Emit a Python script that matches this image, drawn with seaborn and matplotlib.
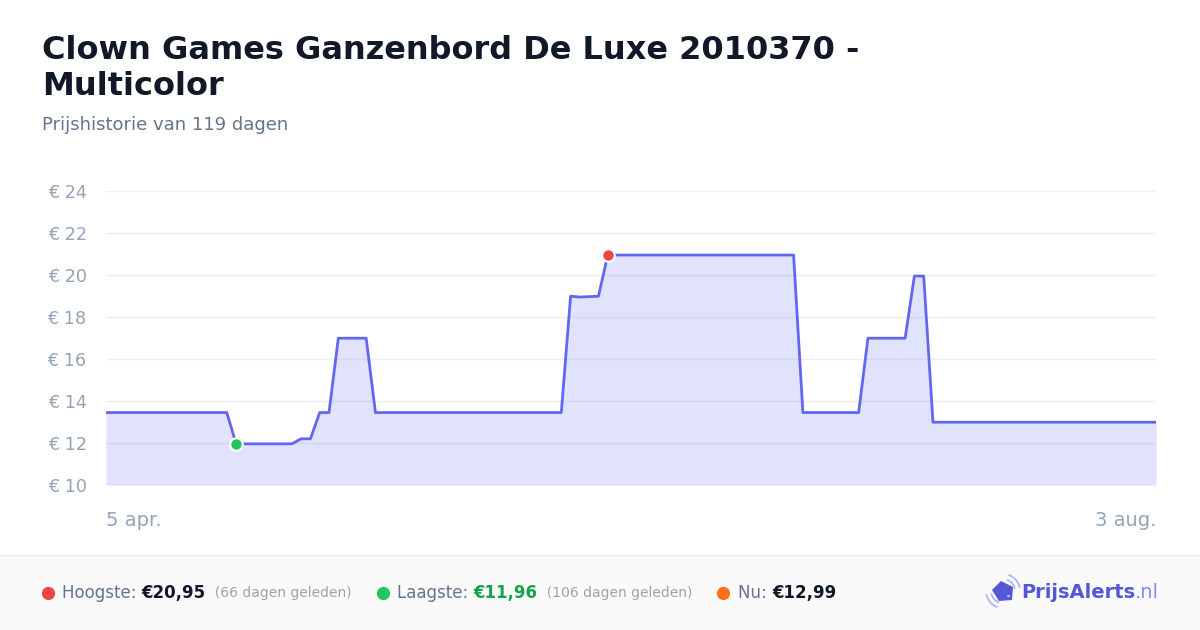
import matplotlib
matplotlib.use("Agg")
import matplotlib.pyplot as plt
import seaborn as sns
import pandas as pd
from matplotlib.patches import Rectangle, Arc, Polygon, Circle

# price change points (day index, price in euro)
days = [0, 13, 14, 20, 21, 22, 23, 24, 25, 28, 29, 49, 50, 51, 53, 54,
        74, 75, 81, 82, 86, 87, 88, 89, 113]
prices = [13.45, 13.45, 11.96, 11.96, 12.2, 12.2, 13.45, 13.45, 16.99, 16.99,
          13.45, 13.45, 18.99, 18.95, 18.99, 20.95, 20.95, 13.45, 13.45, 16.99,
          16.99, 19.95, 19.95, 12.99, 12.99]

y_ticks = [10, 12, 14, 16, 18, 20, 22, 24]
x_labels = ["5 apr.", "3 aug."]

title_lines = ["Clown Games Ganzenbord De Luxe 2010370 -", "Multicolor"]
subtitle = "Prijshistorie van 119 dagen"

high_day, high_price = 54, 20.95
low_day, low_price = 14, 11.96
now_price = 12.99

df = pd.DataFrame({"day": days, "price": prices})

sns.set_style("white")
plt.rcParams["font.family"] = ["DejaVu Sans"]

W, H = 1200, 630
fig = plt.figure(figsize=(12, 6.3), dpi=100)


def fx(x):
    return x / W


def fy(y):
    return 1 - y / H


line_color = "#6366f1"
ax = fig.add_axes([fx(106), fy(485), fx(1156) - fx(106), fy(191) - fy(485)])
ax.fill_between(df["day"], df["price"], 10, color=line_color, alpha=0.19, linewidth=0)
sns.lineplot(data=df, x="day", y="price", ax=ax, color=line_color, linewidth=2)
ax.plot([high_day], [high_price], "o", color="#ef4444", markersize=9,
        markeredgecolor="white", markeredgewidth=1.5, zorder=5, clip_on=False)
ax.plot([low_day], [low_price], "o", color="#22c55e", markersize=9,
        markeredgecolor="white", markeredgewidth=1.5, zorder=5, clip_on=False)

ax.set_xlim(days[0], days[-1])
ax.set_ylim(10, 24)
ax.set_yticks(y_ticks)
ax.set_yticklabels([f"€ {v}" for v in y_ticks])
ax.set_xticks([])
ax.set_xlabel("")
ax.set_ylabel("")
ax.tick_params(axis="y", length=0, pad=14, labelsize=12.7, labelcolor="#94a3b8")
for s in ax.spines.values():
    s.set_visible(False)
ax.grid(axis="y", color="#eeeeee", linewidth=1)
ax.axhline(10, color="#e2e8f0", linewidth=1)

fig.text(fx(106), fy(521), x_labels[0], ha="left", va="center", fontsize=14, color="#94a3b8")
fig.text(fx(1156), fy(521), x_labels[1], ha="right", va="center", fontsize=14, color="#94a3b8")

# header
fig.text(fx(42), fy(59), title_lines[0], ha="left", va="baseline", fontsize=23,
         fontweight="bold", color="#111827")
fig.text(fx(42), fy(95), title_lines[1], ha="left", va="baseline", fontsize=23,
         fontweight="bold", color="#111827")
fig.text(fx(42), fy(130.5), subtitle, ha="left", va="baseline", fontsize=13, color="#64748b")

# footer
fig.patches.append(Rectangle((0, 0), 1, fy(555), transform=fig.transFigure,
                             facecolor="#fafafa", edgecolor="none", zorder=0))
fig.add_artist(plt.Line2D([0, 1], [fy(555), fy(555)], color="#eeeeee", linewidth=1))

renderer = fig.canvas.get_renderer()


def run_text(x, pieces):
    for txt, size, weight, color in pieces:
        t = fig.text(fx(x), fy(593), txt, ha="left", va="center", fontsize=size,
                     fontweight=weight, color=color)
        bb = t.get_window_extent(renderer=renderer)
        x += bb.width


def dot(x, color):
    fig.add_artist(plt.Line2D([fx(x)], [fy(593)], marker="o", markersize=8.5,
                              color=color, linestyle="none"))


dot(48, "#ef4444")
run_text(62, [("Hoogste: ", 12, "normal", "#64748b"),
              ("€20,95", 12, "bold", "#111827"),
              ("  (66 dagen geleden)", 10, "normal", "#9ca3af")])
dot(383, "#22c55e")
run_text(397, [("Laagste: ", 12, "normal", "#64748b"),
               ("€11,96", 12, "bold", "#16a34a"),
               ("  (106 dagen geleden)", 10, "normal", "#9ca3af")])
dot(723, "#f97316")
run_text(738, [("Nu: ", 12, "normal", "#64748b"),
               (f"€{now_price:.2f}".replace(".", ","), 12, "bold", "#111827")])

# logo
logo_color = "#5457d6"
tag = [(992, 590), (1001, 581), (1013, 587), (1012, 600), (999, 601)]
fig.add_artist(Polygon([(fx(a), fy(b)) for a, b in tag], closed=True,
                       transform=fig.transFigure, facecolor=logo_color, edgecolor="none"))
fig.add_artist(Circle((fx(1008.5), fy(596)), 1.4 / W, transform=fig.transFigure,
                      facecolor="white", edgecolor="none"))
for r in (12, 17):
    fig.add_artist(Arc((fx(1003), fy(591)), 2 * r / W, 2 * r / H,
                       theta1=20, theta2=80, transform=fig.transFigure,
                       color="#a5b4fc", linewidth=1.2))
    fig.add_artist(Arc((fx(1003), fy(591)), 2 * r / W, 2 * r / H,
                       theta1=200, theta2=260, transform=fig.transFigure,
                       color="#a5b4fc", linewidth=1.2))
t1 = fig.text(fx(1021), fy(593), "PrijsAlerts", ha="left", va="center", fontsize=14,
              fontweight="bold", color=logo_color)
bb = t1.get_window_extent(renderer=renderer)
fig.text(fx(1021) + bb.width / W, fy(593), ".nl", ha="left", va="center", fontsize=14,
         color="#818cf8")

fig.savefig("out.png", dpi=100, facecolor="white")
